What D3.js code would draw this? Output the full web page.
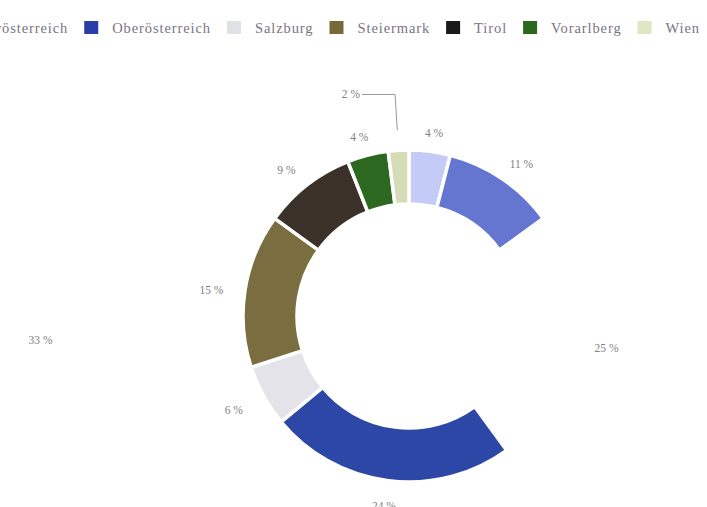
<!DOCTYPE html>
<html><head><meta charset="utf-8">
<script src="https://cdn.jsdelivr.net/npm/d3@7"></script>
<style>html,body{margin:0;padding:0;background:#fff;}svg{display:block;}</style>
</head><body>
<svg id="c" width="707" height="507"></svg>
<script>
const categories = ["Burgenland","Kärnten","Niederösterreich","Oberösterreich","Salzburg","Steiermark","Tirol","Vorarlberg","Wien"];
const values = [4, 11, 25, 24, 6, 15, 9, 4, 2];
const colors = ["#c4cbf6","#6476cf","#ffffff","#2d47a6","#e3e3e9","#7a6d3f","#3b3129","#2d6820","#d5dcb6"];
const legendColors = ["#c4cbf6","#6476cf","#ffffff","#2a3fa6","#e0e0e7","#776a38","#1a1a1a","#2a681d","#dfe6c2"];
const strayLabel = "33 %";

const svg = d3.select("#c");
const cx = 409, cy = 316, outerR = 166, innerR = 112, labelRx = 200, labelRy = 188;
const font = "'Liberation Serif', 'DejaVu Serif', serif";

const pie = d3.pie().sort(null).value(d => d.v);
const data = categories.map((c,i)=>({c, v: values[i], col: colors[i]}));
const arcs = pie(data);
const arc = d3.arc().innerRadius(innerR).outerRadius(outerR);
const g = svg.append("g").attr("transform", `translate(${cx},${cy})`);
g.selectAll("path").data(arcs).join("path")
  .attr("d", arc)
  .attr("fill", d => d.data.col)
  .attr("stroke", "#fff").attr("stroke-width", 3.5).attr("stroke-linejoin","miter");

const pt = (a, r) => [r*Math.sin(a), -r*Math.cos(a)];
const small = d => d.data.v <= 2;
g.selectAll("text.lbl").data(arcs).join("text").attr("class","lbl")
  .each(function(d){
    const m = (d.startAngle + d.endAngle)/2;
    let x = labelRx*Math.sin(m), y = -labelRy*Math.cos(m) + 3;
    let anchor = "middle";
    if (small(d)) { const [lx,ly] = pt(m, 222); x = lx - 35; y = ly; anchor = "end"; }
    d3.select(this).attr("x", x).attr("y", y).attr("text-anchor", anchor);
  })
  .attr("dy","0.35em")
  .attr("font-family", font).attr("font-size", 11.5).attr("fill", "#808080")
  .text(d => d.data.v + " %");
arcs.filter(small).forEach(d => {
  const m = (d.startAngle + d.endAngle)/2;
  const p1 = pt(m, 186), p2 = pt(m, 222);
  g.append("path").attr("d", `M${p1[0]},${p1[1]}L${p2[0]},${p2[1]}L${p2[0]-33},${p2[1]}`)
    .attr("fill","none").attr("stroke","#999").attr("stroke-width",1);
});
g.append("text").attr("x", -outerR*2.22).attr("y", 24).attr("dy","0.35em")
  .attr("text-anchor","middle").attr("font-family", font).attr("font-size", 11.5).attr("fill","#808080")
  .text(strayLabel);

// legend, right-aligned (overflows on the left like the reference)
const lg = svg.append("g").attr("transform","translate(0,28)");
const items = lg.selectAll("g").data(categories).join("g");
items.append("rect").attr("width",14).attr("height",13).attr("y",-7)
  .attr("fill",(d,i)=>legendColors[i]);
items.append("text").attr("x",28).attr("dy","0.35em").attr("y",0)
  .attr("font-family",font).attr("font-size",14.5).attr("letter-spacing",0.9)
  .attr("fill","#7a7480").text(d=>d);
const widths = [];
items.each(function(){ widths.push(28 + d3.select(this).select("text").node().getComputedTextLength()); });
const gap = 16;
let x = 700;
const xs = [];
for (let i = categories.length-1; i>=0; i--) { x -= widths[i]; xs[i] = x; x -= gap; }
items.attr("transform",(d,i)=>`translate(${xs[i]},0)`);
</script>
</body></html>
